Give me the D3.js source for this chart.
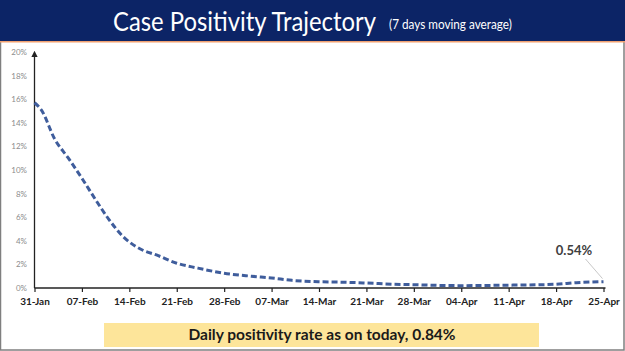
<!DOCTYPE html>
<html>
<head>
<meta charset="utf-8">
<script src="https://cdn.jsdelivr.net/npm/d3@7"></script>
<style>
  html, body { margin: 0; padding: 0; background: #fff; }
  svg { display: block; }
</style>
</head>
<body>
<div id="chart"></div>
<script>
// 7-day moving average of case positivity
const dates = ["2021-01-31","2021-02-01","2021-02-03","2021-02-05","2021-02-07","2021-02-09",
  "2021-02-11","2021-02-13","2021-02-14","2021-02-16","2021-02-18","2021-02-21","2021-02-24",
  "2021-02-28","2021-03-04","2021-03-07","2021-03-10","2021-03-14","2021-03-17","2021-03-21",
  "2021-03-25","2021-03-28","2021-04-01","2021-04-04","2021-04-08","2021-04-11","2021-04-15",
  "2021-04-18","2021-04-21","2021-04-25"];
const positivity = [15.7, 15.1, 12.6, 11.0, 9.3, 7.5,
  5.8, 4.4, 3.9, 3.2, 2.8, 2.1, 1.7,
  1.25, 1.0, 0.85, 0.65, 0.53, 0.5, 0.42,
  0.32, 0.28, 0.22, 0.2, 0.22, 0.24, 0.27,
  0.32, 0.45, 0.54];
const xTickLabels = ["31-Jan","07-Feb","14-Feb","21-Feb","28-Feb","07-Mar","14-Mar",
  "21-Mar","28-Mar","04-Apr","11-Apr","18-Apr","25-Apr"];
const yTicks = [0, 2, 4, 6, 8, 10, 12, 14, 16, 18, 20];
const title = "Case Positivity Trajectory";
const subtitle = "(7 days moving average)";
const lastLabel = "0.54%";
const footnote = "Daily positivity rate as on today, 0.84%";

const W = 625, H = 351;
const parse = d3.timeParse("%Y-%m-%d");
const data = dates.map((d, i) => ({ date: parse(d), value: positivity[i] }));

const svg = d3.select("#chart").append("svg")
  .attr("width", W).attr("height", H);

// frame + header
svg.append("rect").attr("x", 0.5).attr("y", 0.5).attr("width", W - 1.5).attr("height", H - 1.5)
  .attr("fill", "#fff").attr("stroke", "#7f7f7f").attr("stroke-width", 1.5);
svg.append("rect").attr("x", 0).attr("y", 0).attr("width", W).attr("height", 41)
  .attr("fill", "#0c2466");
svg.append("rect").attr("x", 0).attr("y", 41).attr("width", W).attr("height", 1.5)
  .attr("fill", "#f0a070");

// squeeze header texts horizontally to the reference widths
function fitText(str, x0, y0, size, width) {
  const t = svg.append("text")
    .attr("font-family", "Lato, sans-serif").attr("font-size", size).attr("fill", "#fff")
    .text(str);
  const len = t.node().getComputedTextLength();
  t.attr("transform", `translate(${x0},${y0}) scale(${width / len},1)`);
}
fitText(title, 113, 31, 27, 263);
fitText(subtitle, 389, 29, 12.5, 123);

const x = d3.scaleTime()
  .domain([parse("2021-01-31"), parse("2021-04-25")])
  .range([34.5, 603.5]);
const y = d3.scaleLinear().domain([0, 20]).range([288, 52]);

// y axis with arrow
const defs = svg.append("defs");
defs.append("marker").attr("id", "arrow")
  .attr("viewBox", "0 0 10 10").attr("refX", 5).attr("refY", 5)
  .attr("markerWidth", 5).attr("markerHeight", 6).attr("orient", "auto")
  .append("path").attr("d", "M0,0L10,5L0,10z").attr("fill", "#222");
svg.append("line")
  .attr("x1", x.range()[0]).attr("x2", x.range()[0])
  .attr("y1", y(0)).attr("y2", y(20) + 2)
  .attr("stroke", "#222").attr("stroke-width", 1.3)
  .attr("marker-end", "url(#arrow)");

svg.append("g").selectAll("text").data(yTicks).join("text")
  .attr("x", 27).attr("y", d => y(d) + 3)
  .attr("text-anchor", "end")
  .attr("font-family", "Lato, sans-serif").attr("font-size", 8).attr("fill", "#8c8c8c")
  .text(d => d + "%");

// x axis
const xTickDates = xTickLabels.map((_, i) => d3.timeDay.offset(x.domain()[0], i * 7));
const xAxis = d3.axisBottom(x)
  .tickValues(xTickDates)
  .tickFormat((d, i) => xTickLabels[i])
  .tickSize(4).tickSizeOuter(0).tickPadding(6);
const gx = svg.append("g").attr("transform", `translate(0,${y(0)})`).call(xAxis);
gx.select(".domain").attr("stroke", "#222").attr("stroke-width", 1.3)
  .attr("d", `M${x.range()[0]},0H${x.range()[1] + 2}`);
gx.selectAll(".tick line").attr("stroke", "#222").attr("stroke-width", 1.2);
gx.selectAll(".tick text")
  .attr("font-family", "Lato, sans-serif").attr("font-size", 10)
  .attr("font-weight", "bold").attr("fill", "#222");

// line
const line = d3.line()
  .x(d => x(d.date))
  .y(d => y(d.value))
  .curve(d3.curveMonotoneX);
svg.append("path").datum(data)
  .attr("fill", "none").attr("stroke", "#3f5d9c").attr("stroke-width", 3)
  .attr("stroke-dasharray", "6,3")
  .attr("d", line);

// last value label
const last = data[data.length - 1];
svg.append("line")
  .attr("x1", x(last.date) - 18).attr("y1", 259)
  .attr("x2", x(last.date) - 1).attr("y2", y(last.value) - 3)
  .attr("stroke", "#c8c8c8").attr("stroke-width", 1);
svg.append("text").attr("x", 574).attr("y", 255)
  .attr("text-anchor", "middle")
  .attr("font-family", "Lato, sans-serif").attr("font-size", 13).attr("font-weight", "bold")
  .attr("fill", "#404040")
  .text(lastLabel);

// footnote box
svg.append("rect").attr("x", 104).attr("y", 323).attr("width", 435).attr("height", 24)
  .attr("fill", "#fde59a");
svg.append("text").attr("x", 322).attr("y", 340)
  .attr("text-anchor", "middle")
  .attr("font-family", "Lato, sans-serif").attr("font-size", 15.5).attr("font-weight", "bold")
  .attr("fill", "#1a1a1a")
  .text(footnote);
</script>
</body>
</html>
